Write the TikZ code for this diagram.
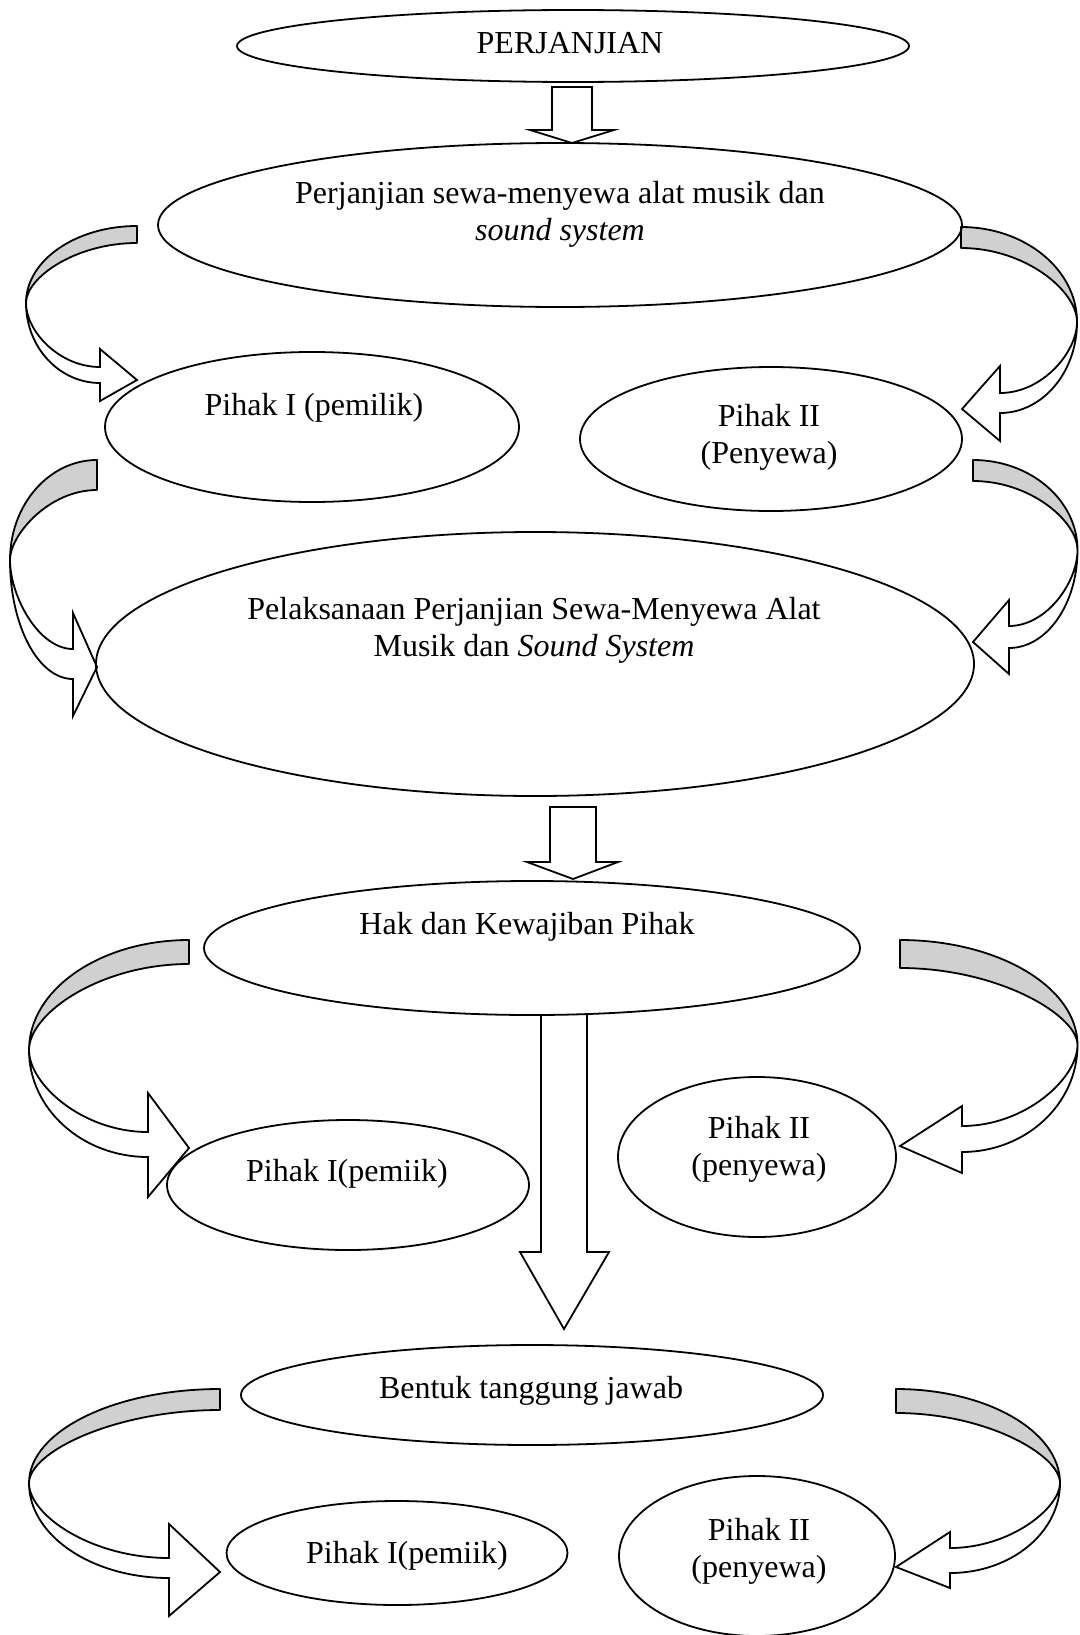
\documentclass[tikz,border=0pt]{standalone}
\usepackage{fontspec}
\setmainfont{Liberation Serif}
\usetikzlibrary{shapes.geometric}
\definecolor{ribbongray}{RGB}{208,208,208}
\tikzset{
  ca/.cd,
  tx/.store in=\caTx, tox/.store in=\caTo, tix/.store in=\caTi,
  lx/.store in=\caLx, ly/.store in=\caLy,
  hx/.store in=\caHx, bi/.store in=\caBi, bo/.store in=\caBo,
  ht/.store in=\caHt, hb/.store in=\caHb, px/.store in=\caPx, py/.store in=\caPy,
}
\tikzset{
  oval/.style={ellipse, draw, line width=1.8pt, inner sep=0pt},
  txt/.style={font=\fontsize{32}{37}\selectfont, align=center, inner sep=0pt},
  ribbonback/.style={draw, fill=ribbongray, line width=1.8pt, line join=round},
  ribbonfront/.style={draw, fill=white, line width=1.8pt, line join=miter},
  blockarrow/.style={draw, fill=white, line width=1.8pt, line join=miter},
  mirror/.style={shift={(1079,0)}, xscale=-1},
}
\newcommand\ribbonarrow[1]{%
  \tikzset{ca/.cd,#1}%
  \path[ribbonback] (\caTx,\caTo)
    .. controls ({\caTx-0.552*(\caTx-\caLx)},\caTo) and (\caLx,{\caLy-0.552*(\caLy-\caTo)}) .. (\caLx,\caLy)
    .. controls (\caLx,{\caLy-0.552*(\caLy-\caTo)+(\caTi-\caTo)}) and ({\caTx-0.552*(\caTx-\caLx)},\caTi) .. (\caTx,\caTi) -- cycle;
  \path[ribbonfront] (\caLx,\caLy)
    .. controls (\caLx,{\caLy+0.552*(\caBo-\caLy)}) and ({\caHx-0.552*(\caHx-\caLx)},\caBo) .. (\caHx,\caBo)
    -- (\caHx,\caHb) -- (\caPx,\caPy) -- (\caHx,\caHt) -- (\caHx,\caBi)
    .. controls ({\caHx-0.552*(\caHx-\caLx)},\caBi) and (\caLx,{\caLy+0.552*(\caBo-\caLy)-(\caBo-\caBi)}) .. (\caLx,\caLy) -- cycle;
}
\begin{document}
\begin{tikzpicture}[x=1pt,y=-1pt]
\useasboundingbox (0,0) rectangle (1079,1635);

% curved ribbon arrows, left side
\ribbonarrow{tx=137,tox=226,tix=243,lx=26,ly=303,hx=100,bi=367,bo=383,ht=349,hb=401,px=137,py=380}
\ribbonarrow{tx=97,tox=460,tix=490,lx=10,ly=560,hx=73,bi=649,bo=679,ht=613,hb=716,px=97,py=667}
\ribbonarrow{tx=189,tox=940,tix=964,lx=29,ly=1050,hx=148,bi=1132,bo=1157,ht=1093,hb=1197,px=189,py=1148}
\ribbonarrow{tx=220,tox=1389,tix=1410,lx=29,ly=1483,hx=169,bi=1558,bo=1578,ht=1524,hb=1616,px=220,py=1572}
% curved ribbon arrows, right side (mirrored)
\begin{scope}[mirror]
\ribbonarrow{tx=118,tox=227,tix=248,lx=2,ly=322,hx=79,bi=393,bo=413,ht=366,hb=441,px=117,py=409}
\ribbonarrow{tx=106,tox=460,tix=481,lx=1.5,ly=550,hx=70,bi=626,bo=648,ht=600,hb=674,px=106,py=642}
\ribbonarrow{tx=179,tox=940,tix=968,lx=1.5,ly=1045,hx=117,bi=1126,bo=1152,ht=1106,hb=1173,px=179,py=1146}
\ribbonarrow{tx=183,tox=1389,tix=1413,lx=19,ly=1483,hx=129,bi=1548,bo=1573,ht=1532,hb=1588,px=183,py=1567}
\end{scope}

% straight block arrows
\path[blockarrow] (552,87) -- (592,87) -- (592,130) -- (614,130) -- (572,143) -- (530,130) -- (552,130) -- cycle;
\path[blockarrow] (550,807) -- (596,807) -- (596,862) -- (618,862) -- (573,879) -- (527,862) -- (550,862) -- cycle;
\draw[line width=1.8pt, line join=miter] (541,1015) -- (541,1252) -- (520,1252) -- (564,1329) -- (609,1252) -- (587,1252) -- (587,1015);

% ellipses
\node[oval, minimum width=672pt, minimum height=72pt] (e1) at (573,46) {};
\node[oval, minimum width=804pt, minimum height=164pt] (e2) at (560,225) {};
\node[oval, minimum width=414pt, minimum height=150pt] (e3) at (312,427) {};
\node[oval, minimum width=382pt, minimum height=144pt] (e4) at (771,439) {};
\node[oval, minimum width=878pt, minimum height=264pt] (e5) at (535,664) {};
\node[oval, minimum width=656pt, minimum height=134pt] (e6) at (532,948) {};
\node[oval, minimum width=362pt, minimum height=130pt] (e7) at (348,1185) {};
\node[oval, minimum width=278pt, minimum height=160pt] (e8) at (757,1157) {};
\node[oval, minimum width=582pt, minimum height=100pt] (e9) at (532,1395) {};
\node[oval, minimum width=341pt, minimum height=104pt] (e10) at (397,1553) {};
\node[oval, minimum width=276pt, minimum height=160pt] (e11) at (757,1556) {};

% texts
\node[txt] (t1) at (570,43) {PERJANJIAN};
\node[txt] (t2) at (560,214) {Perjanjian sewa-menyewa alat musik dan\\\textit{sound system}};
\node[txt] (t3) at (314,408) {Pihak I (pemilik)};
\node[txt] (t4) at (769,437) {Pihak II\\(Penyewa)};
\node[txt] (t5) at (534,630) {Pelaksanaan Perjanjian Sewa-Menyewa Alat\\Musik dan \textit{Sound System}};
\node[txt] (t6) at (527,927) {Hak dan Kewajiban Pihak};
\node[txt] (t7) at (347,1174) {Pihak I(pemiik)};
\node[txt] (t8) at (759,1149) {Pihak II\\(penyewa)};
\node[txt] (t9) at (531,1391) {Bentuk tanggung jawab};
\node[txt] (t10) at (407,1556) {Pihak I(pemiik)};
\node[txt] (t11) at (759,1551) {Pihak II\\(penyewa)};
\end{tikzpicture}
\end{document}
